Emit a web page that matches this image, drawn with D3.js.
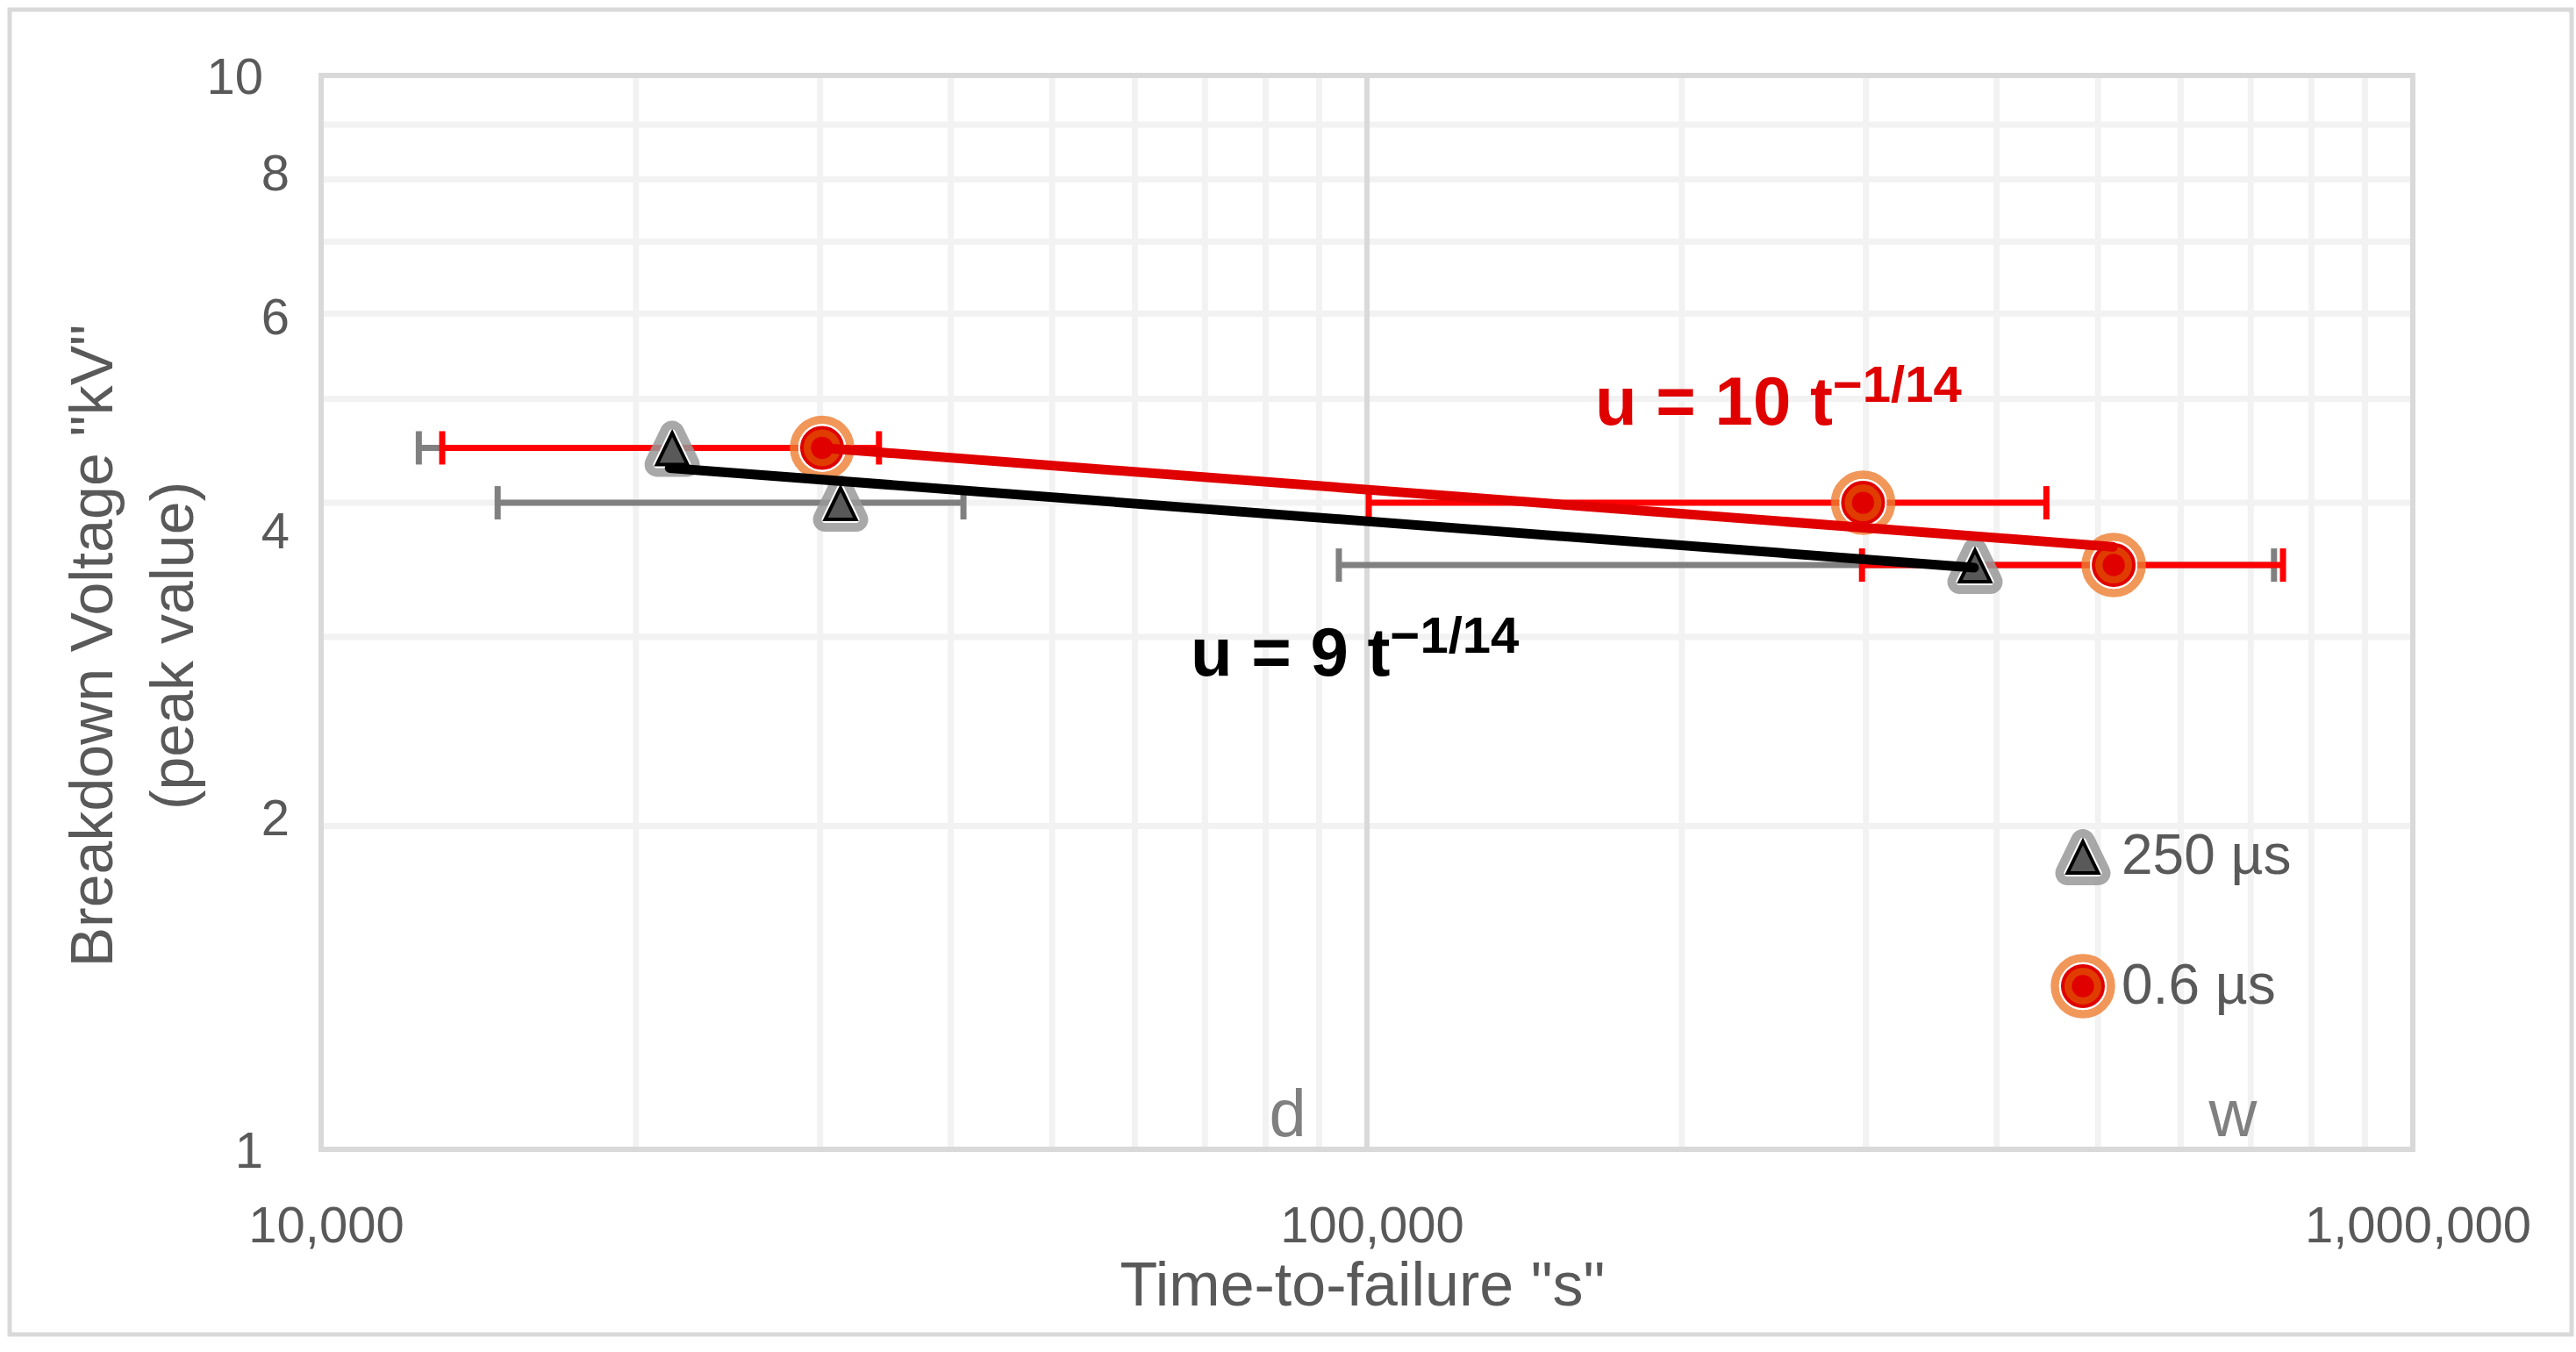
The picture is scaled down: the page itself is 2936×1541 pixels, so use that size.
<!DOCTYPE html>
<html>
<head>
<meta charset="utf-8">
<script src="https://cdn.jsdelivr.net/npm/d3@7"></script>
<style>
  html, body { margin: 0; padding: 0; background: #fff; }
  svg { display: block; }
  text { font-family: "Liberation Sans", Arial, sans-serif; }
</style>
</head>
<body>
<svg id="chart" width="2936" height="1541"></svg>
<script>
// ---------------- data ----------------
const seriesNames = ["250 µs", "0.6 µs"];

// 250 µs series (triangles)
const triTime  = [21660, 31380, 381400];
const triVolt  = [4.5, 4.0, 3.5];
const triTimeLo = [12400, 14750, 94000];
const triTimeHi = [21660, 41130, 736700];

// 0.6 µs series (circles)
const circTime  = [30130, 298100, 517600];
const circVolt  = [4.5, 4.0, 3.5];
const circTimeLo = [13055, 100400, 297400];
const circTimeHi = [34150, 446300, 751400];

// power-law trend lines (end points)
const redFitTime  = [30130, 516700];
const redFitVolt  = [4.50, 3.64];
const blackFitTime = [21540, 380600];
const blackFitVolt = [4.31, 3.48];

// axis ticks
const xTickValues = [1e4, 1e5, 1e6];
const xTickLabels = ["10,000", "100,000", "1,000,000"];
const yTickValues = [1, 2, 4, 6, 8, 10];
const yTickLabels = ["1", "2", "4", "6", "8", "10"];

// annotations
const annoText = ["d", "w"];
const annoTime = [84000, 673000];

// ---------------- drawing ----------------
const svg = d3.select("#chart");
const W = 2936, H = 1541;
const plot = { left: 366, right: 2750, top: 86, bottom: 1310 };

const x = d3.scaleLog().domain([1e4, 1e6]).range([plot.left, plot.right]);
const y = d3.scaleLog().domain([1, 10]).range([plot.bottom, plot.top]);

svg.append("rect").attr("width", W).attr("height", H).attr("fill", "#fff");
// outer chart border
svg.append("rect").attr("x", 11).attr("y", 11).attr("width", 2920).attr("height", 1510)
  .attr("fill", "none").attr("stroke", "#d9d9d9").attr("stroke-width", 5);

// gridlines
const isDecade = d => Math.abs(Math.log10(d) - Math.round(Math.log10(d))) < 1e-9;
const grid = svg.append("g");
const xGrid = x.ticks().filter(v => v > 1e4 && v < 1e6);
grid.selectAll("line.xg").data(xGrid.filter(d => !isDecade(d))).join("line")
  .attr("x1", d => x(d)).attr("x2", d => x(d))
  .attr("y1", plot.top).attr("y2", plot.bottom)
  .attr("stroke", "#f2f2f2").attr("stroke-width", 7);
const yGrid = y.ticks().filter(v => v > 1 && v < 10);
grid.selectAll("line.yg").data(yGrid).join("line")
  .attr("x1", plot.left).attr("x2", plot.right)
  .attr("y1", d => y(d)).attr("y2", d => y(d))
  .attr("stroke", "#f2f2f2").attr("stroke-width", 7);
grid.selectAll("line.xm").data(xGrid.filter(isDecade)).join("line")
  .attr("x1", d => x(d)).attr("x2", d => x(d))
  .attr("y1", plot.top).attr("y2", plot.bottom)
  .attr("stroke", "#d9d9d9").attr("stroke-width", 6);

// plot border
svg.append("rect").attr("x", plot.left).attr("y", plot.top)
  .attr("width", plot.right - plot.left).attr("height", plot.bottom - plot.top)
  .attr("fill", "none").attr("stroke", "#d9d9d9").attr("stroke-width", 6);

// axis tick labels
svg.append("g").selectAll("text").data(xTickValues).join("text")
  .attr("x", d => x(d) + 6).attr("y", 1416)
  .attr("text-anchor", "middle").attr("font-size", 58).attr("fill", "#595959")
  .text((d, i) => xTickLabels[i]);

const yNudge = { 1: 0, 2: -11, 4: 31, 6: 2, 8: -9, 10: 0 };
svg.append("g").selectAll("text").data(yTickValues).join("text")
  .attr("x", d => (d === 1 || d === 10) ? 300 : 330)
  .attr("y", d => y(d) + yNudge[d] + 21)
  .attr("text-anchor", "end").attr("font-size", 58).attr("fill", "#595959")
  .text((d, i) => yTickLabels[i]);

// axis titles
svg.append("text").attr("x", 1553).attr("y", 1488).attr("text-anchor", "middle")
  .attr("font-size", 70).attr("fill", "#595959").text('Time-to-failure "s"');
const yt = svg.append("text").attr("transform", "translate(128,736) rotate(-90)")
  .attr("text-anchor", "middle").attr("font-size", 68).attr("fill", "#595959");
yt.append("tspan").attr("x", 0).attr("y", 0).text('Breakdown Voltage "kV"');
yt.append("tspan").attr("x", 0).attr("y", 92).text("(peak value)");

// annotations d / w
svg.append("g").selectAll("text").data(annoText).join("text")
  .attr("x", (d, i) => x(annoTime[i])).attr("y", 1295)
  .attr("text-anchor", "middle").attr("font-size", 76).attr("fill", "#808080")
  .text(d => d);

// error bars
function errorBars(times, lo, hi, volts, color) {
  const g = svg.append("g").attr("stroke", color).attr("stroke-width", 7);
  times.forEach((t, i) => {
    const yy = y(volts[i]);
    g.append("line").attr("x1", x(lo[i])).attr("x2", x(hi[i])).attr("y1", yy).attr("y2", yy);
    [lo[i], hi[i]].forEach(v => {
      g.append("line").attr("x1", x(v)).attr("x2", x(v)).attr("y1", yy - 19).attr("y2", yy + 19);
    });
  });
}
errorBars(triTime, triTimeLo, triTimeHi, triVolt, "#808080");
errorBars(circTime, circTimeLo, circTimeHi, circVolt, "#ff0000");

// markers
const triPath = "M0,-17 L17.5,19 L-17.5,19 Z";
function drawTriangle(g) {
  g.append("path").attr("d", triPath).attr("fill", "#999").attr("stroke", "#999")
    .attr("stroke-width", 28).attr("stroke-linejoin", "round").attr("opacity", 0.85);
  g.append("path").attr("d", triPath).attr("fill", "#fff").attr("stroke", "#fff")
    .attr("stroke-width", 8).attr("stroke-linejoin", "round");
  g.append("path").attr("d", triPath).attr("fill", "#595959").attr("stroke", "#000")
    .attr("stroke-width", 4);
}
function drawCircle(g) {
  g.append("circle").attr("r", 32).attr("fill", "none").attr("stroke", "#ed7d31")
    .attr("stroke-width", 9.5).attr("opacity", 0.8);
  g.append("circle").attr("r", 27.2).attr("fill", "#fff");
  g.append("circle").attr("r", 23).attr("fill", "#e03c00").attr("stroke", "#e00000").attr("stroke-width", 4);
  g.append("circle").attr("r", 12.7).attr("fill", "#e00000");
}
triTime.forEach((t, i) => {
  drawTriangle(svg.append("g").attr("transform", `translate(${x(t)},${y(triVolt[i])})`));
});
circTime.forEach((t, i) => {
  drawCircle(svg.append("g").attr("transform", `translate(${x(t)},${y(circVolt[i])})`));
});

// trend lines
const line = d3.line().x(d => x(d[0])).y(d => y(d[1]));
svg.append("path").datum(blackFitTime.map((t, i) => [t, blackFitVolt[i]]))
  .attr("d", line).attr("stroke", "#000").attr("stroke-width", 11)
  .attr("stroke-linecap", "round").attr("fill", "none");
svg.append("path").datum(redFitTime.map((t, i) => [t, redFitVolt[i]]))
  .attr("d", line).attr("stroke", "#e00000").attr("stroke-width", 11)
  .attr("stroke-linecap", "round").attr("fill", "none");

// equations
function equation(xp, yp, main, color) {
  const t = svg.append("text").attr("x", xp).attr("y", yp).attr("fill", color)
    .attr("font-weight", "bold").attr("font-size", 78);
  t.append("tspan").text(main);
  t.append("tspan").attr("dy", -26).attr("font-size", 58).text("\u22121/14");
}
equation(1818, 484, "u = 10 t", "#e00000");
equation(1357, 770, "u = 9 t", "#000000");

// legend
const legend = svg.append("g");
const legendY = [976, 1124];
const lg0 = legend.append("g").attr("transform", `translate(2374,${legendY[0]})`);
drawTriangle(lg0);
const lg1 = legend.append("g").attr("transform", `translate(2374,${legendY[1]})`);
drawCircle(lg1);
legend.selectAll("text").data(seriesNames).join("text")
  .attr("x", 2418).attr("y", (d, i) => legendY[i] + 20)
  .attr("font-size", 64).attr("fill", "#595959").text(d => d);
</script>
</body>
</html>
